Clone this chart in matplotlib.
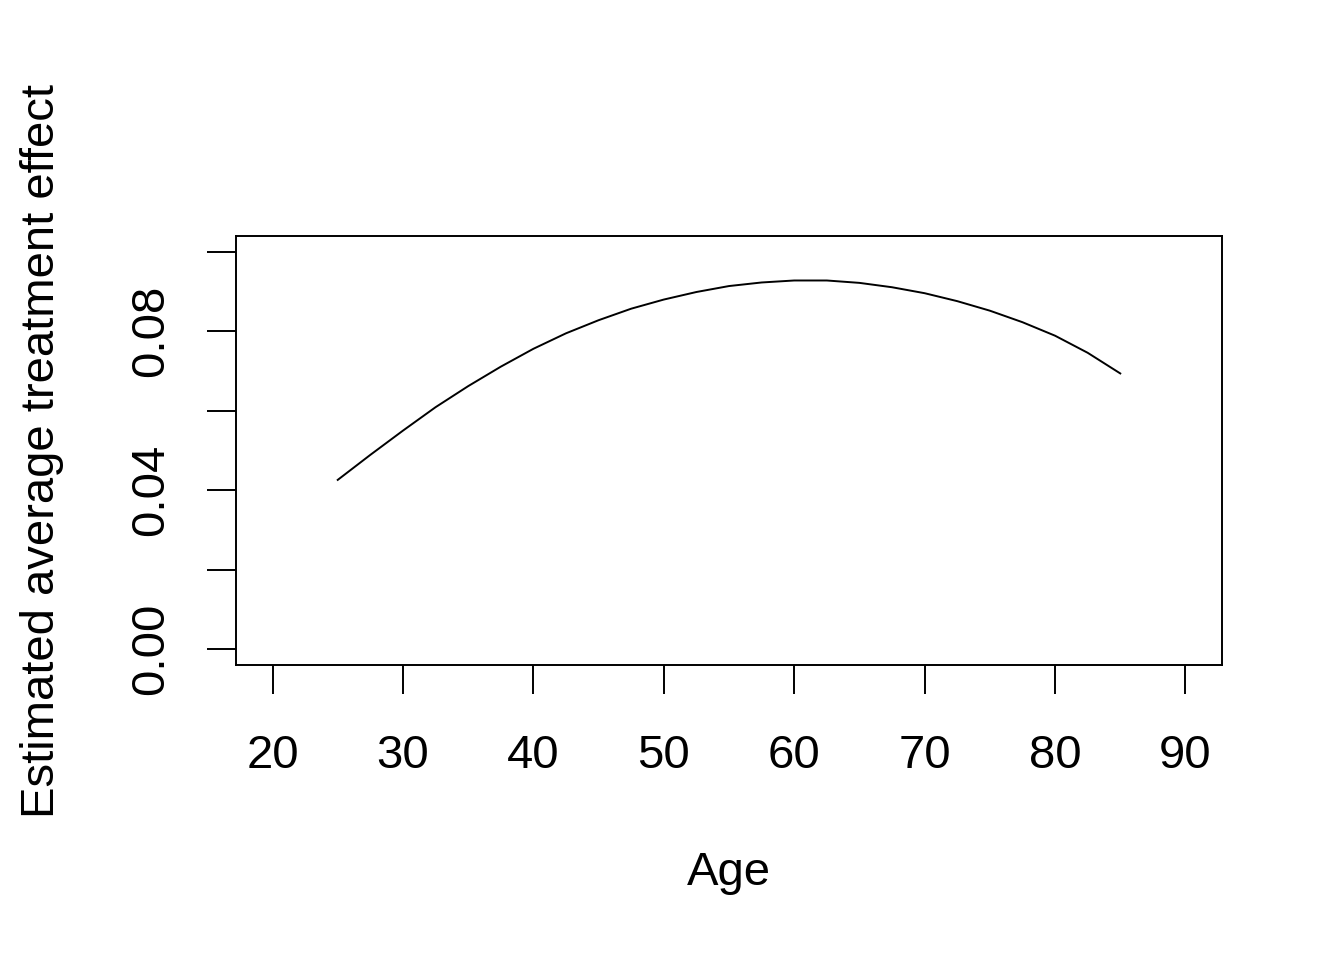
import matplotlib
matplotlib.use('Agg')
import matplotlib.pyplot as plt

# valores
age = [25, 27.5, 30, 32.5, 35, 37.5, 40, 42.5, 45, 47.5, 50, 52.5, 55,
       57.5, 60, 62.5, 65, 67.5, 70, 72.5, 75, 77.5, 80, 82.5, 85]
ate = [0.0426, 0.0489, 0.0550, 0.0609, 0.0662, 0.0711, 0.0756, 0.0795,
       0.0828, 0.0857, 0.0880, 0.0899, 0.0914, 0.0923, 0.0928, 0.0928,
       0.0922, 0.0911, 0.0896, 0.0876, 0.0852, 0.0823, 0.0789, 0.0746,
       0.0694]
xticks = [20, 30, 40, 50, 60, 70, 80, 90]
yticks = [0.00, 0.02, 0.04, 0.06, 0.08, 0.10]
ylabels = ["0.00", "", "0.04", "", "0.08", ""]

plt.rcParams['font.family'] = ['Liberation Sans', 'DejaVu Sans']
plt.rcParams['font.size'] = 34

fig = plt.figure(figsize=(13.44, 9.6), dpi=100)
ax = fig.add_axes([236 / 1344, 1 - 665 / 960, (1222 - 236) / 1344, (665 - 236) / 960])

ax.plot(age, ate, color='black', lw=1.4, solid_joinstyle='round')

ax.set_xlim(20 - 2.8, 90 + 2.8)
ax.set_ylim(-0.004, 0.104)
ax.set_xticks(xticks)
ax.set_yticks(yticks)
ax.set_yticklabels(ylabels)

for s in ax.spines.values():
    s.set_linewidth(1.4)

ax.tick_params(axis='both', direction='out', length=21, width=1.4)
ax.tick_params(axis='x', pad=29)
ax.tick_params(axis='y', pad=24, labelrotation=90)
for lab in ax.get_yticklabels():
    lab.set_va('center')

ax.set_xlabel("Age", labelpad=52)
ax.set_ylabel("Estimated average treatment effect", labelpad=47)

fig.savefig("out.png", dpi=100)
